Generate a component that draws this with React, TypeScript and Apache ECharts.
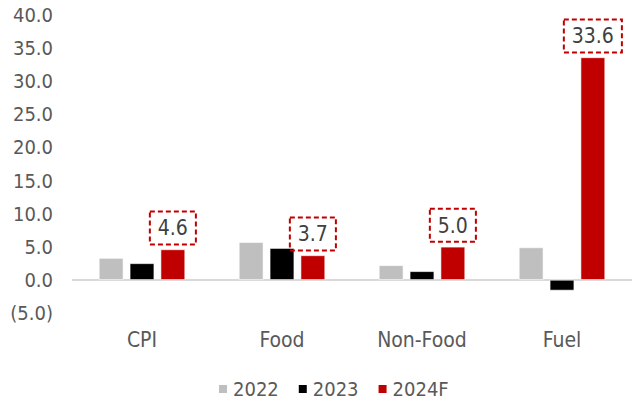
import React, { useEffect, useRef } from "react";
import * as echarts from "echarts";

// Inflation by component, % change
const categories = ["CPI", "Food", "Non-Food", "Fuel"];
const seriesNames = ["2022", "2023", "2024F"];
const values2022 = [3.3, 5.7, 2.2, 4.9];
const values2023 = [2.5, 4.8, 1.3, -1.6];
const values2024F = [4.6, 3.7, 5.0, 33.6];
const yTicks = { min: -5, max: 40, interval: 5 };

const colors = ["#bfbfbf", "#000000", "#c00000"];
const FONT = "'DejaVu Sans Condensed', 'DejaVu Sans', sans-serif";
const TEXT = "#595959";

function fmt(v: number): string {
  return v < 0 ? `(${Math.abs(v).toFixed(1)})` : v.toFixed(1);
}

export default function App() {
  const ref = useRef<HTMLDivElement>(null);

  useEffect(() => {
    document.body.style.margin = "0";
    if (!ref.current) return;
    const chart = echarts.init(ref.current, undefined, { renderer: "svg" });
    const data = [values2022, values2023, values2024F];

    chart.setOption({
      animation: false,
      textStyle: { fontFamily: FONT },
      grid: { left: 72, right: -2, top: 15, bottom: 88, containLabel: false },
      legend: {
        data: seriesNames,
        left: 217,
        top: 377,
        padding: 0,
        itemWidth: 10,
        itemHeight: 10,
        itemGap: 18,
        icon: "rect",
        textStyle: { fontFamily: FONT, fontSize: 20, color: TEXT, lineHeight: 24 },
      },
      xAxis: {
        type: "category",
        data: categories,
        position: "bottom",
        axisLine: { show: false, onZero: false },
        axisTick: { show: false },
        axisLabel: { fontFamily: FONT, fontSize: 21, color: TEXT, margin: 16 },
      },
      yAxis: {
        type: "value",
        min: yTicks.min,
        max: yTicks.max,
        interval: yTicks.interval,
        splitLine: { show: false },
        axisLine: { show: false },
        axisTick: { show: false },
        axisLabel: {
          fontFamily: FONT,
          fontSize: 20,
          color: TEXT,
          margin: 19,
          formatter: (v: number) => fmt(v),
        },
      },
      series: seriesNames.map((name, i) => ({
        name,
        type: "bar",
        data: data[i],
        barWidth: 24.5,
        barGap: "26%",
        itemStyle: { color: colors[i], borderColor: "#ffffff", borderWidth: 0.6 },
        label:
          i === 2
            ? {
                show: true,
                position: "top",
                distance: 5,
                formatter: (p: any) => fmt(p.value),
                fontFamily: FONT,
                fontSize: 21,
                lineHeight: 22,
                color: "#404040",
                borderColor: "#c00000",
                borderWidth: 2,
                borderType: [5, 3],
                padding: [6, 8, 5, 8],
              }
            : { show: false },
        markLine:
          i === 0
            ? {
                silent: true,
                symbol: "none",
                label: { show: false },
                lineStyle: { color: "#d9d9d9", width: 2, type: "solid" },
                data: [{ yAxis: 0 }],
                z: 1,
              }
            : undefined,
      })),
    });

    return () => chart.dispose();
  }, []);

  return <div ref={ref} style={{ width: 632, height: 401 }} />;
}
